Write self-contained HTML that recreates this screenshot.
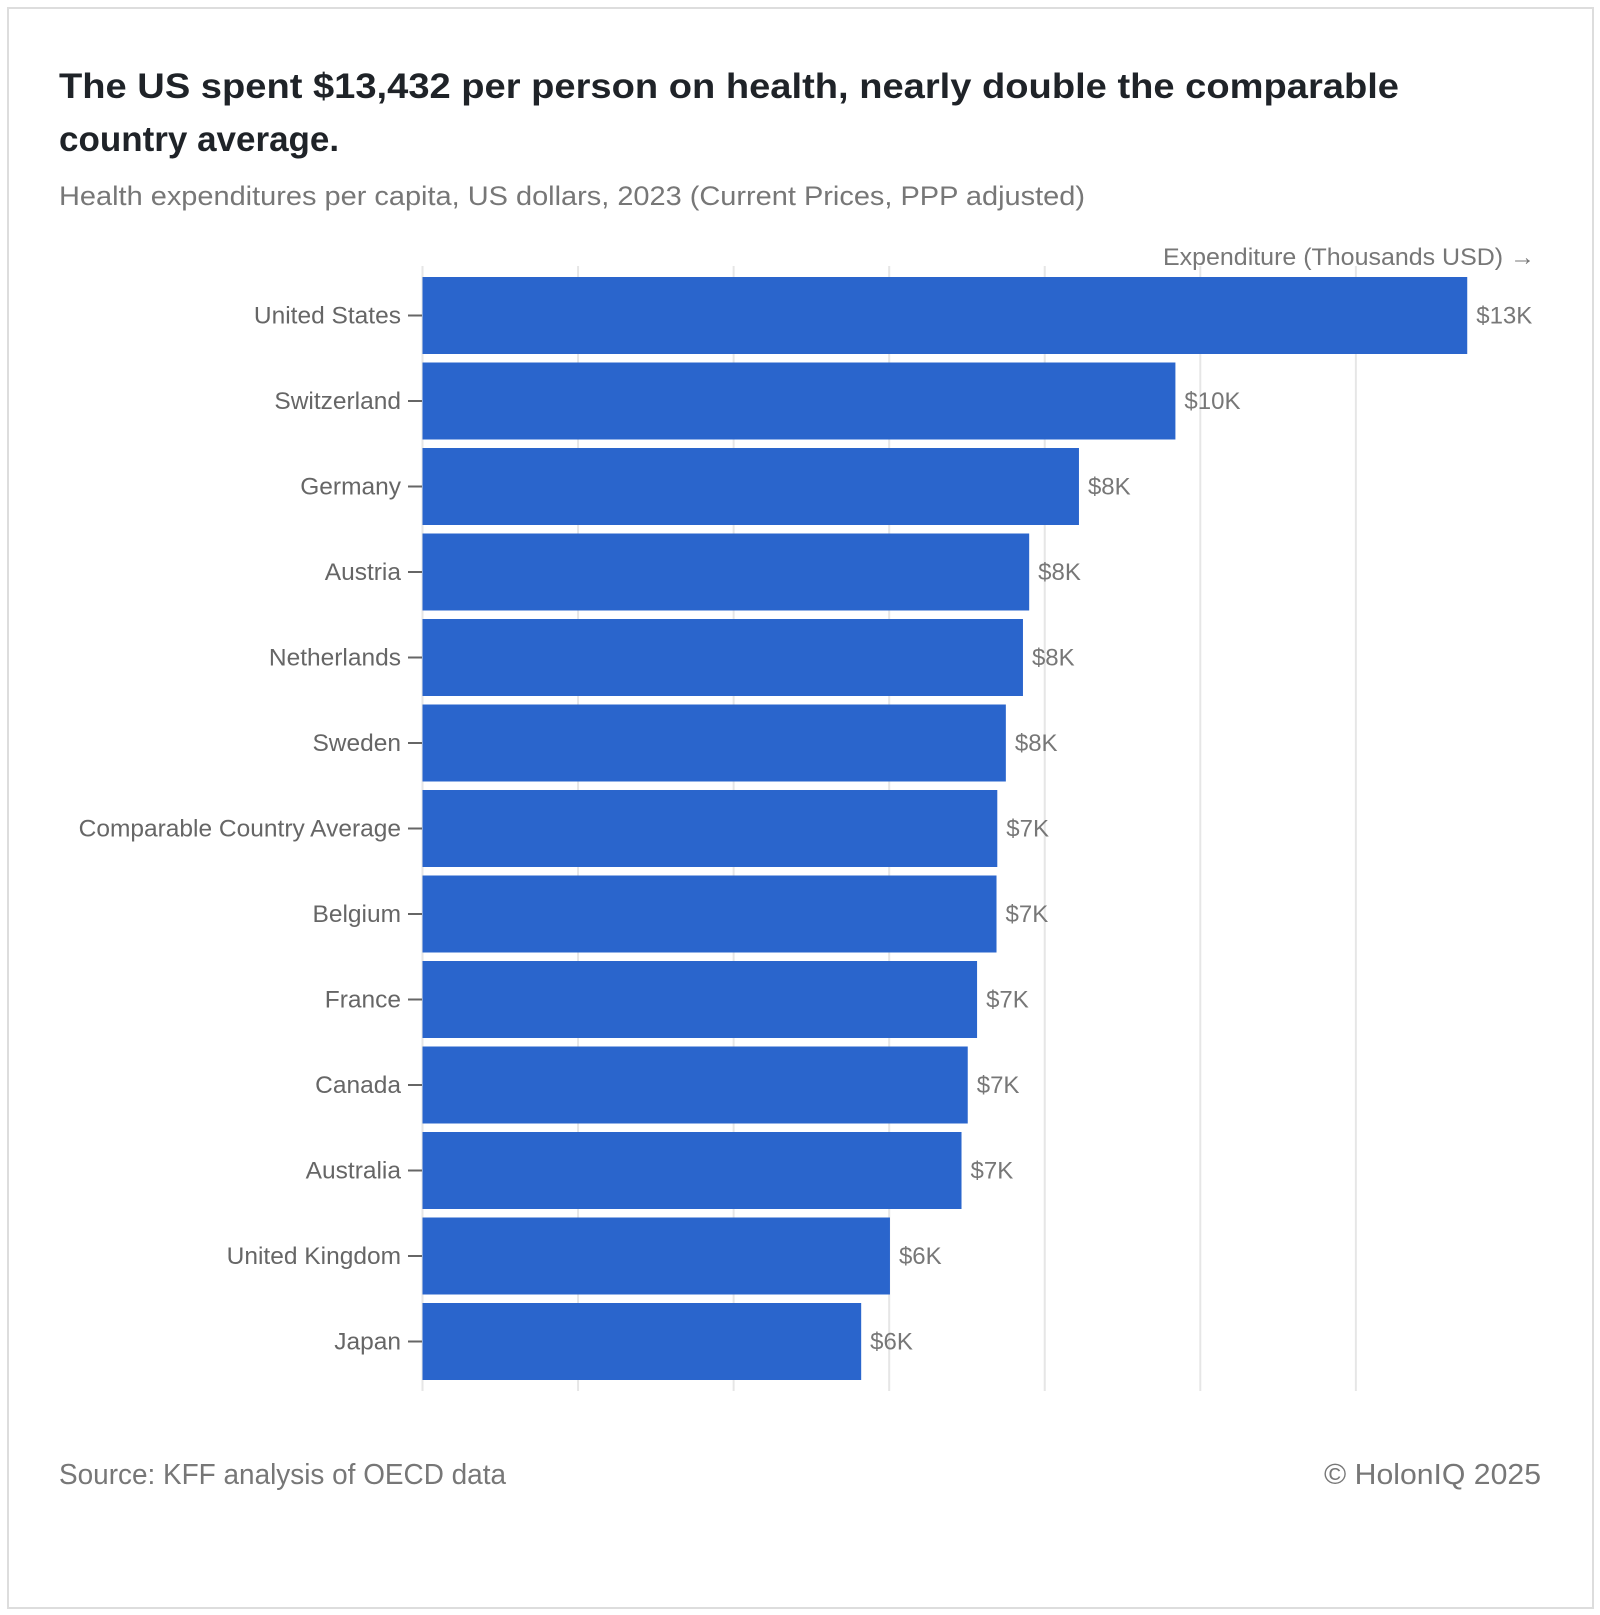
<!DOCTYPE html>
<html><head><meta charset="utf-8"><style>
html,body{margin:0;padding:0;background:#fff}
svg{display:block}
text{font-family:"Liberation Sans",sans-serif}
</style></head><body>
<svg id="chart" width="1600" height="1615" xmlns="http://www.w3.org/2000/svg">
<rect x="8" y="8" width="1585" height="1600" fill="#fff" stroke="#dddddd" stroke-width="2"/>
<text x="59" y="98" font-size="35" font-weight="bold" fill="#1f2328" textLength="1340" lengthAdjust="spacingAndGlyphs">The US spent $13,432 per person on health, nearly double the comparable</text>
<text x="59" y="151" font-size="35" font-weight="bold" fill="#1f2328">country average.</text>
<text x="59" y="205" font-size="27" fill="#777" textLength="1026" lengthAdjust="spacingAndGlyphs">Health expenditures per capita, US dollars, 2023 (Current Prices, PPP adjusted)</text>
<text x="1535" y="265" font-size="24" fill="#777" text-anchor="end" textLength="372" lengthAdjust="spacingAndGlyphs">Expenditure (Thousands USD) →</text>
<g id="grid"></g>
<g id="bars"></g>
<text x="59" y="1484" font-size="29" fill="#777" textLength="447" lengthAdjust="spacingAndGlyphs">Source: KFF analysis of OECD data</text>
<text x="1541" y="1484" font-size="29" fill="#777" text-anchor="end" textLength="217" lengthAdjust="spacingAndGlyphs">© HolonIQ 2025</text>
</svg>
<script>
const categories = ["United States","Switzerland","Germany","Austria","Netherlands","Sweden","Comparable Country Average","Belgium","France","Canada","Australia","United Kingdom","Japan"];
const values = [13432,9680,8440,7800,7720,7500,7390,7380,7130,7010,6930,6010,5640];
const valueLabels = ["$13K","$10K","$8K","$8K","$8K","$8K","$7K","$7K","$7K","$7K","$7K","$6K","$6K"];
const gridTicks = [0,2000,4000,6000,8000,10000,12000];

const NS="http://www.w3.org/2000/svg";
const x0=422.5, pxPer=0.07778;
const xScale=v=>x0+v*pxPer;
const top0=277, step=85.5, bh=77;
const yScale=i=>top0+i*step;
const gridTop=266, gridBot=1391;
function mk(tag,attrs,parent){const e=document.createElementNS(NS,tag);for(const k in attrs)e.setAttribute(k,attrs[k]);parent.appendChild(e);return e;}
const grid=document.getElementById('grid');
gridTicks.forEach(t=>{
  const l=mk('line',{x1:xScale(t),x2:xScale(t),y1:gridTop,y2:gridBot,stroke:'#e6e6e6','stroke-width':2},grid);
  
  
});
const bars=document.getElementById('bars');
categories.forEach((c,i)=>{
  const y=yScale(i);
  const r=mk('rect',{x:x0,y:y,width:xScale(values[i])-x0,height:bh,fill:'#2a65cc'},bars);
  
  
  const tk=mk('line',{x1:408,x2:422,y1:y+bh/2,y2:y+bh/2,stroke:'#666','stroke-width':2},bars);
  
  
  const lb=mk('text',{x:401,y:y+bh/2+8,'font-size':24.5,fill:'#666','text-anchor':'end'},bars);
  lb.textContent=c;
  
  
  const vl=mk('text',{x:xScale(values[i])+9,y:y+bh/2+8,'font-size':24,fill:'#777'},bars);
  vl.textContent=valueLabels[i];
  
  
});
</script>
</body></html>
